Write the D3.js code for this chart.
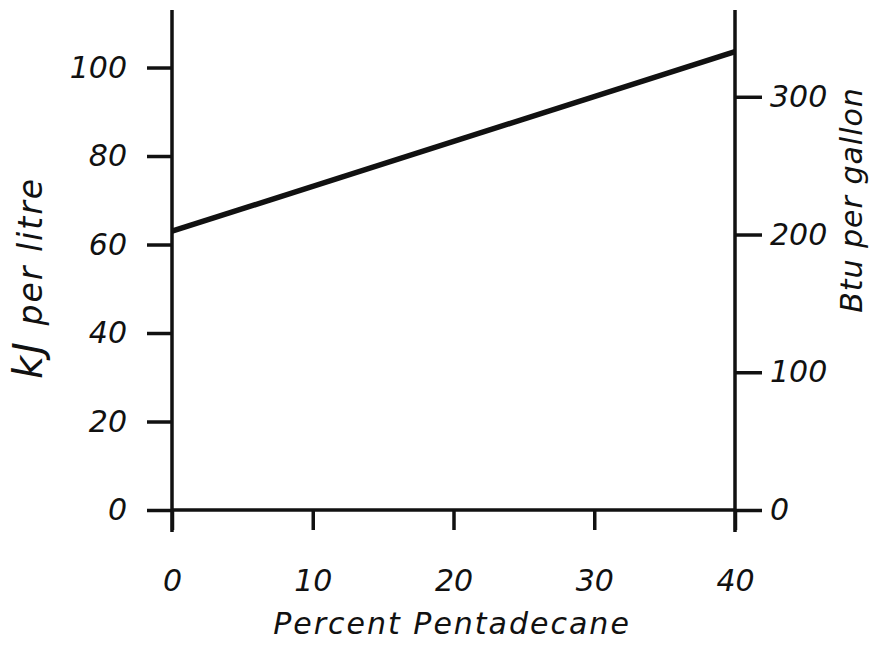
<!DOCTYPE html>
<html>
<head>
<meta charset="utf-8">
<script src="https://cdn.jsdelivr.net/npm/d3@7"></script>
<style>
  body { margin: 0; background: #fff; }
  svg text { font-family: "DejaVu Sans", sans-serif; font-style: italic; fill: #111; }
</style>
</head>
<body>
<svg id="chart" width="882" height="654"></svg>
<script>
// data
const percent = [0, 40];
const kjPerLitre = [63, 103.6];

const xTicks = [0, 10, 20, 30, 40];
const leftTicks = [0, 20, 40, 60, 80, 100];
const rightTicks = [0, 100, 200, 300];

const svg = d3.select("#chart");

const x0 = 172, x1 = 735, yBase = 510, yTop = 10;

const x = d3.scaleLinear().domain([0, 40]).range([x0, x1]);
const yL = d3.scaleLinear().domain([0, 113]).range([yBase, yTop]);
const yR = d3.scaleLinear().domain([0, 363]).range([yBase, yTop]);

// axes
const styleAxis = (g) => {
    g.select(".domain").remove();
    g.selectAll(".tick line").attr("stroke", "#111").attr("stroke-width", 3.5);
    g.selectAll(".tick text").attr("font-size", 30).attr("fill", "#111");
};

svg.append("g")
    .attr("transform", `translate(${x0},0)`)
    .call(d3.axisLeft(yL).tickValues(leftTicks).tickSize(25).tickPadding(20))
    .call(styleAxis);

svg.append("g")
    .attr("transform", `translate(${x1},0)`)
    .call(d3.axisRight(yR).tickValues(rightTicks).tickSize(27).tickPadding(8))
    .call(styleAxis);

svg.append("g")
    .attr("transform", `translate(0,${yBase})`)
    .call(d3.axisBottom(x).tickValues(xTicks).tickSize(20).tickPadding(40))
    .call(styleAxis);

// axis lines (extend a little past the corners like the drawing)
svg.append("line").attr("x1", x0).attr("x2", x0).attr("y1", yTop).attr("y2", yBase + 22)
    .attr("stroke", "#111").attr("stroke-width", 3.5);
svg.append("line").attr("x1", x1).attr("x2", x1).attr("y1", yTop).attr("y2", yBase + 22)
    .attr("stroke", "#111").attr("stroke-width", 3.5);
svg.append("line").attr("x1", x0).attr("x2", x1).attr("y1", yBase).attr("y2", yBase)
    .attr("stroke", "#111").attr("stroke-width", 3.5);

// data line
const line = d3.line().x((d, i) => x(percent[i])).y((d) => yL(d));
svg.append("path")
    .datum(kjPerLitre)
    .attr("d", line)
    .attr("fill", "none")
    .attr("stroke", "#111")
    .attr("stroke-width", 5.5);

// titles
svg.append("text")
    .attr("x", 452).attr("y", 634)
    .attr("text-anchor", "middle")
    .attr("font-size", 30)
    .attr("letter-spacing", 2)
    .text("Percent  Pentadecane");

const leftTitle = svg.append("text")
    .attr("transform", "translate(42,278) rotate(-90)")
    .attr("text-anchor", "middle")
    .attr("letter-spacing", 2);
leftTitle.append("tspan").attr("font-size", 40).text("kJ ");
leftTitle.append("tspan").attr("font-size", 33).text("per litre");

svg.append("text")
    .attr("transform", "translate(862,200) rotate(-90)")
    .attr("text-anchor", "middle")
    .attr("font-size", 30)
    .attr("letter-spacing", 1)
    .text("Btu per gallon");
</script>
</body>
</html>
